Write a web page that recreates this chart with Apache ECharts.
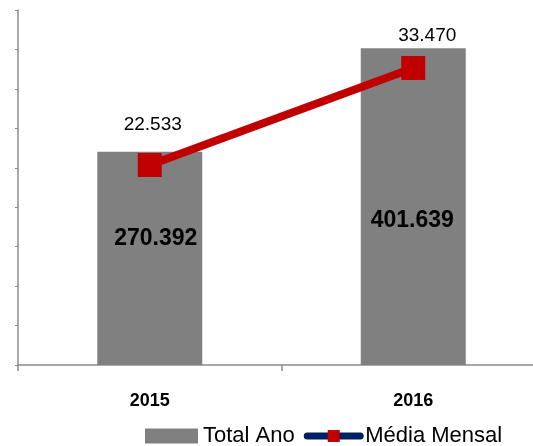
<!DOCTYPE html>
<html>
<head>
<meta charset="utf-8">
<script src="https://cdn.jsdelivr.net/npm/echarts@6/dist/echarts.min.js"></script>
<style>
  html, body { margin: 0; padding: 0; background: #fff; }
  #chart { width: 533px; height: 446px; }
</style>
</head>
<body>
<div id="chart"></div>
<script>
// dados do gráfico
const categories = ['2015', '2016'];
const totalAno = [270392, 401639];
const mediaMensal = [22533, 33470];
const totalLabels = ['270.392', '401.639'];
const mediaLabels = ['22.533', '33.470'];

const FONT = '"Liberation Sans", Arial, sans-serif';

const myChart = echarts.init(document.getElementById('chart'));

// deslocamento dos rótulos (como no Excel, ajustados à mão)
const barLabelOffset = [[6, -20], [-1, 14]];
const lineLabelOffset = [[3, -40], [14, -32]];

const option = {
  animation: false,
  textStyle: { fontFamily: FONT },
  grid: {
    left: 18,
    top: 10,
    width: 527,
    height: 355,
    outerBoundsMode: 'none'
  },
  legend: {
    left: 140,
    top: 420,
    itemWidth: 53,
    itemHeight: 15,
    itemGap: 9,
    textStyle: { fontSize: 22, color: '#000', fontFamily: FONT },
    data: [
      { name: 'Total Ano', icon: 'rect', itemStyle: { color: '#808080' } },
      {
        name: 'Média Mensal',
        itemStyle: { color: '#C00000' },
        lineStyle: { color: '#002060', width: 7, cap: 'round' }
      }
    ]
  },
  xAxis: {
    type: 'category',
    data: categories,
    axisLine: { lineStyle: { color: '#8c8c8c', width: 1.5 } },
    axisTick: { show: true, length: 6, lineStyle: { color: '#8c8c8c', width: 1.5 } },
    axisLabel: {
      color: '#000',
      fontSize: 18,
      fontWeight: 'bold',
      fontFamily: FONT,
      margin: 27
    }
  },
  yAxis: [
    {
      type: 'value',
      min: 0,
      max: 450000,
      interval: 50000,
      axisLine: { show: true, lineStyle: { color: '#8c8c8c', width: 1.5 } },
      axisTick: { show: true, length: 3, lineStyle: { color: '#8c8c8c' } },
      axisLabel: { show: false },
      splitLine: { show: false }
    },
    {
      type: 'value',
      min: 0,
      max: 40000,
      show: false,
      splitLine: { show: false }
    }
  ],
  series: [
    {
      name: 'Total Ano',
      type: 'bar',
      barWidth: 105,
      itemStyle: { color: '#808080' },
      data: totalAno.map((v, i) => ({
        value: v,
        label: {
          show: true,
          position: 'inside',
          offset: barLabelOffset[i],
          formatter: totalLabels[i],
          color: '#000',
          fontSize: 23,
          fontWeight: 'bold',
          fontFamily: FONT
        }
      }))
    },
    {
      name: 'Média Mensal',
      type: 'line',
      yAxisIndex: 1,
      symbol: 'rect',
      symbolSize: 24,
      itemStyle: { color: '#C00000' },
      lineStyle: { color: '#C00000', width: 8 },
      z: 3,
      data: mediaMensal.map((v, i) => ({
        value: v,
        label: {
          show: true,
          position: 'inside',
          offset: lineLabelOffset[i],
          formatter: mediaLabels[i],
          color: '#000',
          fontSize: 19,
          fontFamily: FONT
        }
      }))
    }
  ]
};

myChart.clear();
myChart.setOption(option);
</script>
</body>
</html>
